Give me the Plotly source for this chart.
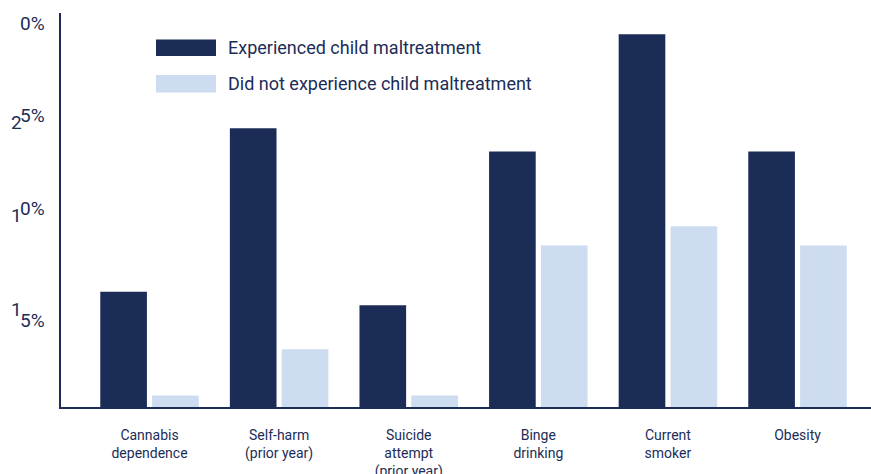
import plotly.graph_objects as go

# Share of adults reporting each outcome, by childhood maltreatment status (%)
categories = [
    "Cannabis<br>dependence",
    "Self-harm<br>(prior year)",
    "Suicide<br>attempt<br>(prior year)",
    "Binge<br>drinking",
    "Current<br>smoker",
    "Obesity",
]
experienced = [6.0, 14.5, 5.3, 13.3, 19.4, 13.3]
not_experienced = [0.6, 3.0, 0.6, 8.4, 9.4, 8.4]
series_names = ["Experienced child maltreatment", "Did not experience child maltreatment"]

NAVY = "#1b2d57"
LIGHT = "#cddcf1"
FONT = "Roboto"

W, H = 871, 474
ML, MR, MT, MB = 61, 0, 13, 67
PW, PH = W - ML - MR, H - MT - MB


def px(x):
    return (x - ML) / PW


def py(y):
    return (H - MB - y) / PH


fig = go.Figure()
fig.add_trace(go.Bar(x=categories, y=experienced, name=series_names[0],
                     marker=dict(color=NAVY, line=dict(width=0))))
fig.add_trace(go.Bar(x=categories, y=not_experienced, name=series_names[1],
                     marker=dict(color=LIGHT, line=dict(width=0))))

# y-axis labels, drawn piece by piece as they appear on the axis
ylabel_parts = [
    ("0%", 47, 23.5),
    ("5%", 47, 115.5),
    ("2", 24, 122),
    ("0%", 47, 208.5),
    ("1", 24, 215),
    ("1", 24, 309),
    ("5%", 47, 320),
]
annotations = []
for txt, xr, yc in ylabel_parts:
    annotations.append(dict(text=txt, x=px(xr), y=py(yc), xref="paper", yref="paper",
                            xanchor="right", yanchor="middle", showarrow=False,
                            font=dict(family=FONT, size=19, color=NAVY)))

# legend: wide swatches with labels
shapes = []
legend_rows = [(series_names[0], NAVY, 39.5, 56), (series_names[1], LIGHT, 75, 92.5)]
for name, col, y0, y1 in legend_rows:
    shapes.append(dict(type="rect", xref="paper", yref="paper",
                       x0=px(156), x1=px(216), y0=py(y1), y1=py(y0),
                       fillcolor=col, line=dict(width=0)))
    annotations.append(dict(text=name, x=px(226), y=py((y0 + y1) / 2), xref="paper", yref="paper",
                            xanchor="left", yanchor="middle", showarrow=False,
                            font=dict(family=FONT, size=18, color=NAVY)))

fig.update_layout(
    width=W, height=H,
    margin=dict(l=ML, r=MR, t=MT, b=MB, pad=0, autoexpand=False),
    paper_bgcolor="white", plot_bgcolor="white",
    barmode="group", bargap=0.2, bargroupgap=0.1,
    showlegend=False,
    font=dict(family=FONT, color=NAVY),
    annotations=annotations,
    shapes=shapes,
)
fig.update_xaxes(
    range=[-0.683, 5.567], showline=True, linecolor=NAVY, linewidth=2,
    showgrid=False, zeroline=False, ticks="", ticklabelstandoff=14, automargin=False,
    tickfont=dict(family=FONT, size=14, color=NAVY),
)
fig.update_yaxes(
    range=[0, 20.5], showline=True, linecolor=NAVY, linewidth=2, automargin=False,
    showgrid=False, zeroline=False, showticklabels=False, ticks="",
)

fig.write_html("out.html")
